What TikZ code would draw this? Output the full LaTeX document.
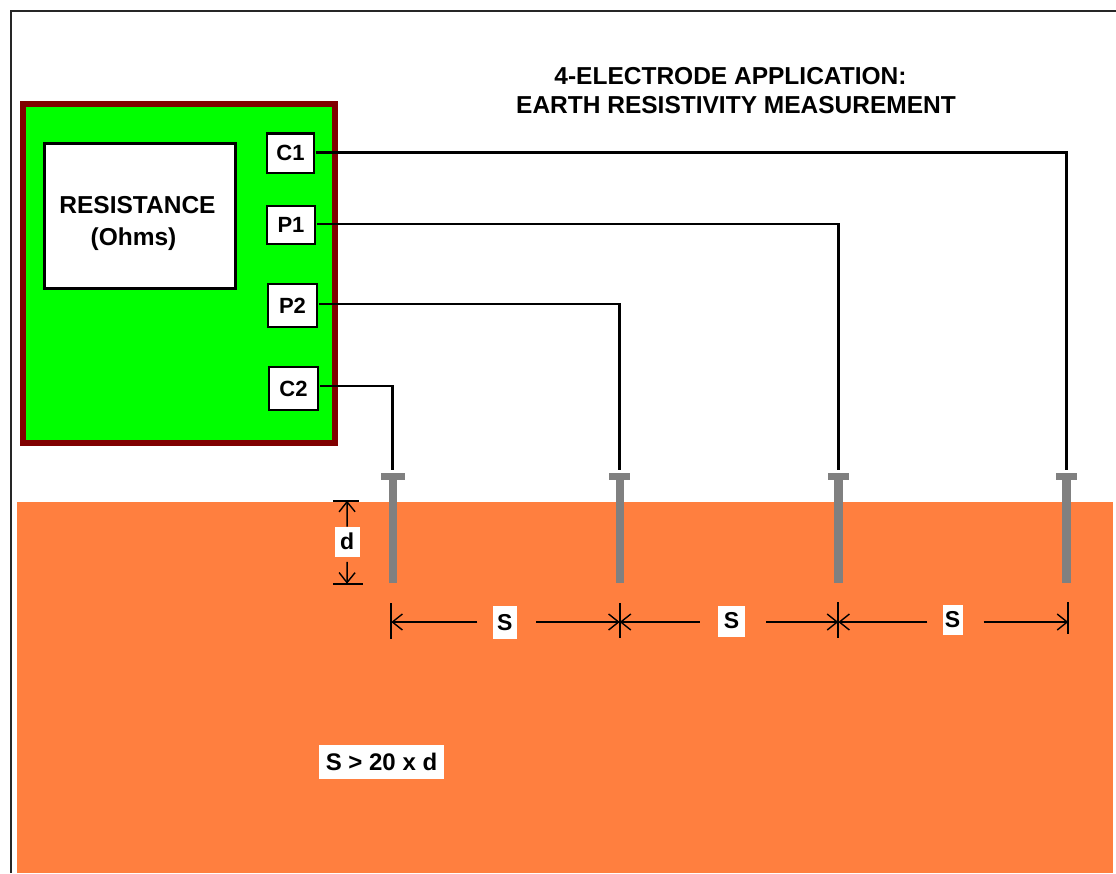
\documentclass[tikz,border=0pt]{standalone}
\usepackage{fontspec}
\setmainfont{Liberation Sans}
\usetikzlibrary{arrows.meta}
\definecolor{soilcolor}{HTML}{FF7F3F}
\definecolor{casecolor}{HTML}{800000}
\definecolor{stemcolor}{HTML}{808080}
\definecolor{metercolor}{HTML}{00FF00}
\tikzset{
    portbox/.style={draw, line width=2.2pt, fill=white, inner sep=0pt, font=\bfseries\fontsize{22}{26}\selectfont},
    dimlabel/.style={fill=white, inner sep=0pt, font=\bfseries\fontsize{23}{26}\selectfont},
    wire/.style={line width=2.7pt},
    tick/.style={line width=1.8pt},
    dimline/.style={line width=1.5pt, -{Straight Barb[length=10pt, width=16pt, line width=1.4pt]}},
    stem/.style={draw=none, fill=stemcolor, inner sep=0pt}
}
\begin{document}
\begin{tikzpicture}[x=1pt, y=-1pt]
    \useasboundingbox (0,0) rectangle (1116,873);

    \node (soil) [fill=soilcolor, inner sep=0pt, minimum width=1096pt, minimum height=371pt] at (565,687.5) {};
    \draw [line width=1.4pt, draw=black!85] (11,873) -- (11,11) -- (1116,11);

    \node (title) [align=center, font=\bfseries\fontsize{24.5}{29}\selectfont] at (736,91) {4-ELECTRODE APPLICATION:\hspace*{11pt}\\ EARTH RESISTIVITY MEASUREMENT};

    \node (meter) [draw=casecolor, fill=metercolor, line width=6pt, minimum width=312pt, minimum height=339pt, inner sep=0pt] at (178.5,273) {};
    \node (display) [draw, fill=white, line width=3pt, minimum width=191.5pt, minimum height=145.5pt, inner sep=0pt] at (140.2,215.8) {};
    \node (reading) [align=center, inner sep=0pt, font=\bfseries\fontsize{24.5}{32}\selectfont] at (137.5,223) {RESISTANCE\\ (Ohms)\hspace*{8pt}};

    \node (c1) [portbox, minimum width=47.5pt, minimum height=39.5pt] at (290.5,153.2) {C1};
    \node (p1) [portbox, minimum width=48.5pt, minimum height=38.5pt] at (291,225) {P1};
    \node (p2) [portbox, minimum width=49.5pt, minimum height=43.5pt] at (292.5,305.5) {P2};
    \node (c2) [portbox, minimum width=49.5pt, minimum height=43.5pt] at (293.5,388.5) {C2};

    % electrodes
    \node (head1) [stem, minimum width=24.5pt, minimum height=7pt] at (392.8,476.5) {};
    \node (head2) [stem, minimum width=21pt, minimum height=7pt] at (619.8,476.5) {};
    \node (head3) [stem, minimum width=21.3pt, minimum height=7pt] at (838.3,476.5) {};
    \node (head4) [stem, minimum width=21.3pt, minimum height=7pt] at (1066.3,476.5) {};
    \node (rod1) [stem, anchor=north, minimum width=8.4pt, minimum height=103pt] at (393.1,480) {};
    \node (rod2) [stem, anchor=north, minimum width=8.4pt, minimum height=103pt] at (619.8,480) {};
    \node (rod3) [stem, anchor=north, minimum width=8.4pt, minimum height=103pt] at (838.4,480) {};
    \node (rod4) [stem, anchor=north, minimum width=8.4pt, minimum height=103pt] at (1066.5,480) {};

    \draw [wire, shorten <=1pt, shorten >=3pt] ([yshift=0.7pt]c1.east) -| (head4.north);
    \draw [wire, shorten <=1pt, shorten >=3pt] ([yshift=1pt]p1.east) -| (head3.north);
    \draw [wire, shorten <=1pt, shorten >=3pt] ([yshift=1.5pt]p2.east) -| (head2.north);
    \draw [wire, shorten <=1pt, shorten >=3pt] ([yshift=2.5pt]c2.east) -| (head1.north);

    % spacing marks
    \coordinate (tick1) at (391.3,622);
    \coordinate (tick2) at (619.7,622);
    \coordinate (tick3) at (838.3,622);
    \coordinate (tick4) at (1068.3,622);
    \draw [tick] (391.3,603) -- (391.3,639);
    \draw [tick] (619.7,603) -- (619.7,638);
    \draw [tick] (838.3,602) -- (838.3,638);
    \draw [tick] (1068.3,602) -- (1068.3,634);

    \node (s1) [dimlabel, minimum width=24.5pt, minimum height=33pt] at (504.8,622.5) {S};
    \node (s2) [dimlabel, minimum width=27pt, minimum height=31pt] at (731.5,621) {S};
    \node (s3) [dimlabel, minimum width=20pt, minimum height=30pt] at (952.5,619.5) {S};

    \draw [dimline, shorten <=15pt] (s1.west |- tick1) -- (tick1);
    \draw [dimline, shorten <=19pt] (s1.east |- tick1) -- (tick2);
    \draw [dimline, shorten <=18pt] (s2.west |- tick2) -- (tick2);
    \draw [dimline, shorten <=21pt] (s2.east |- tick2) -- (tick3);
    \draw [dimline, shorten <=15pt] (s3.west |- tick3) -- (tick3);
    \draw [dimline, shorten <=21pt] (s3.east |- tick3) -- (tick4);

    % depth marks
    \coordinate (top) at (347,500.7);
    \coordinate (bottom) at (347,583.7);
    \draw [tick] (333,500.7) -- (359,500.7);
    \draw [tick] (333,583.7) -- (363,583.7);
    \node (d) [dimlabel, minimum width=25pt, minimum height=30pt] at (347.2,541.7) {d};
    \draw [dimline] (d.north) -- (top);
    \draw [dimline, shorten <=5pt] (d.south) -- (bottom);

    \node (rule) [dimlabel, font=\bfseries\fontsize{24}{26}\selectfont, minimum width=125pt, minimum height=34pt] at (381.5,762) {S > 20 x d};
\end{tikzpicture}
\end{document}
